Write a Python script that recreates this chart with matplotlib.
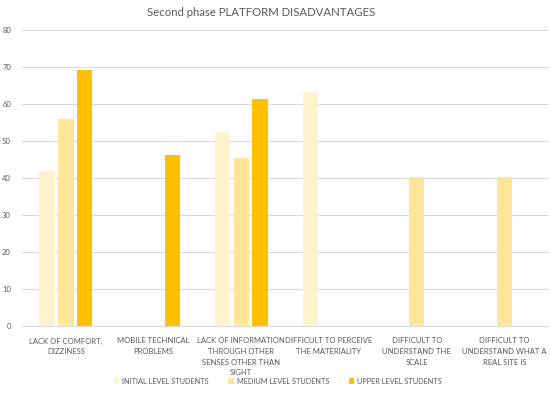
import matplotlib
matplotlib.use("Agg")
import matplotlib.pyplot as plt
import numpy as np

categories = [
    "LACK OF COMFORT,\nDIZZINESS",
    "MOBILE TECHNICAL\nPROBLEMS",
    "LACK OF INFORMATION\nTHROUGH OTHER\nSENSES OTHER THAN\nSIGHT",
    "DIFFICULT TO PERCEIVE\nTHE MATERIALITY",
    "DIFFICULT TO\nUNDERSTAND THE\nSCALE",
    "DIFFICULT TO\nUNDERSTAND WHAT A\nREAL SITE IS",
]
series_names = ["INITIAL LEVEL STUDENTS", "MEDIUM LEVEL STUDENTS", "UPPER LEVEL STUDENTS"]
initial = [42.0, 0, 52.6, 63.2, 0, 0]
medium = [56.0, 0, 45.5, 0, 40.3, 40.3]
upper = [69.2, 46.2, 61.4, 0, 0, 0]
yticks = [0, 10, 20, 30, 40, 50, 60, 70, 80]
title = "Second phase PLATFORM DISADVANTAGES"

colors = ["#FFF2CC", "#FFE699", "#FFC000"]
txt = "#595959"

plt.rcParams["font.family"] = ["Lato", "DejaVu Sans"]

fig = plt.figure(figsize=(5.5, 3.97), dpi=100)
ax = fig.add_axes([0.04, 0.178, 0.957, 0.746])

x = np.arange(len(categories))
w = 0.175
offs = [-0.215, 0, 0.215]
for vals, c, o, n in zip([initial, medium, upper], colors, offs, series_names):
    ax.bar(x + o, vals, width=w, color=c, label=n, zorder=3)

ax.set_xlim(-0.5, len(categories) - 0.5)
ax.set_ylim(0, 80)
ax.set_yticks(yticks)
ax.set_yticklabels([str(v) for v in yticks], fontsize=5.5, color=txt)
ax.set_xticks(x)
ax.set_xticklabels(categories, fontsize=5.5, color=txt, linespacing=1.6)
ax.tick_params(axis="both", length=0)
ax.tick_params(axis="x", pad=8)
ax.tick_params(axis="y", pad=8)
ax.grid(axis="y", color="#D9D9D9", linewidth=0.8, zorder=0)
for s in ["top", "right", "left"]:
    ax.spines[s].set_visible(False)
ax.spines["bottom"].set_color("#D9D9D9")
ax.spines["bottom"].set_linewidth(0.8)

fig.suptitle(title, x=0.475, y=0.982, fontsize=8.2, color=txt)

leg = fig.legend(loc="center", bbox_to_anchor=(0.505, 0.04), ncol=3, frameon=False,
                 fontsize=5.3, handlelength=0.7, handleheight=0.7, handletextpad=0.4,
                 columnspacing=2.7)
for t in leg.get_texts():
    t.set_color(txt)

fig.savefig("out.png", dpi=100)
